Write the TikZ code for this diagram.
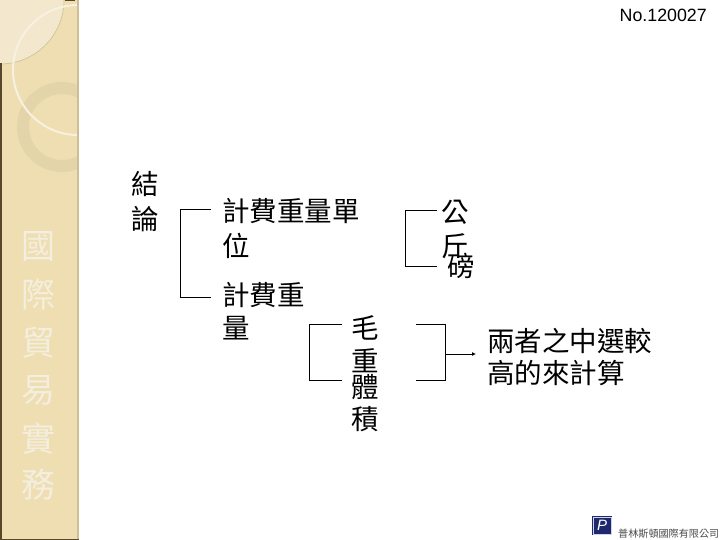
\documentclass[tikz,border=0pt]{standalone}
\usepackage{fontspec}
\usetikzlibrary{arrows.meta}
\setmainfont{Liberation Sans}
\newfontfamily\cjk{Noto Sans CJK TC}
\definecolor{sidetan}{RGB}{238,222,178}
\definecolor{sidelight}{RGB}{243,232,205}
\definecolor{sidering}{RGB}{228,212,170}
\definecolor{sideedge}{RGB}{205,190,150}
\definecolor{sidedark}{RGB}{90,70,40}
\definecolor{sidetext}{RGB}{244,238,222}
\definecolor{logoblue}{RGB}{30,40,110}
\tikzset{
  cjktext/.style={inner sep=0pt,anchor=west,font=\cjk\fontsize{27.5}{27.5}\selectfont},
  sidetext/.style={inner sep=0pt,text=sidetext,font=\cjk\fontsize{34}{34}\selectfont},
  bracket/.style={line width=0.8pt,black}
}
\begin{document}
\begin{tikzpicture}[x=1pt,y=-1pt]
  \useasboundingbox (0,0) rectangle (720,540);
  \fill[white] (0,0) rectangle (720,540);
  %side band
  \fill[sidetan] (0,0) rectangle (78,540);
  \begin{scope}
    \clip (0,0) rectangle (78,540);
    %lighter piece in the corner
    \fill[sidelight] (0,0) circle[radius=64];
    \draw[sideedge,line width=0.6pt] (0,0) circle[radius=64];
    %ring
    \draw[sidering,line width=12pt] (62,127) circle[radius=39];
    %thin light circle
    \draw[sidelight!60!white,line width=2pt] (78,70) circle[radius=65];
  \end{scope}
  \fill[sideedge] (77,0) rectangle (79,540);
  \fill[sidedark] (0,63) rectangle (1.5,540);
  \fill[sidedark] (0,539) rectangle (79,540);
  \fill[sidedark] (65,0) rectangle (75,1.5);
  \node[sidetext] (side1) at (38,246) {國};
  \node[sidetext] (side2) at (38,295) {際};
  \node[sidetext] (side3) at (38,343) {貿};
  \node[sidetext] (side4) at (38,390) {易};
  \node[sidetext] (side5) at (38,438) {實};
  \node[sidetext] (side6) at (38,485) {務};
  %page number
  \node[inner sep=0pt,anchor=east,font=\fontsize{17.8}{18}\selectfont] (pageno) at (707,15) {No.120027};
  %title, written downwards
  \node[cjktext] (title1) at (131,184) {結};
  \node[cjktext] (title2) at (131,219) {論};
  %first level
  \node[cjktext] (unit1) at (222,211) {計費重量單};
  \node[cjktext] (unit2) at (222,246) {位};
  \node[cjktext] (unit3) at (222,295) {計費重};
  \node[cjktext] (unit4) at (222,328) {量};
  %second level
  \node[cjktext] (kg1) at (441,212) {公};
  \node[cjktext] (kg2) at (441,246) {斤};
  \node[cjktext] (lb) at (447,266) {磅};
  \node[cjktext] (gross1) at (351,328) {毛};
  \node[cjktext] (gross2) at (351,361) {重};
  \node[cjktext] (vol1) at (351,387) {體};
  \node[cjktext] (vol2) at (351,419) {積};
  \node[cjktext] (result1) at (487,341) {兩者之中選較};
  \node[cjktext] (result2) at (487,373) {高的來計算};
  %brackets
  \coordinate (a1) at (211,209);
  \coordinate (a2) at (211,297.5);
  \coordinate (c1) at (437,210.5);
  \coordinate (c2) at (437,266.5);
  \coordinate (d1) at (342,324);
  \coordinate (d2) at (342,380.5);
  \coordinate (b1) at (416,324);
  \coordinate (b2) at (416,380.5);
  \coordinate (b3) at (445,354);
  \coordinate (b4) at (476,354);
  \draw[bracket] (a1) -| (180.5,297.5) -- (a2);
  \draw[bracket] (c1) -| (405.5,266.5) -- (c2);
  \draw[bracket] (d1) -| (309.5,380.5) -- (d2);
  \draw[bracket] (b1) -| (b3 |- b2) -- (b2);
  \draw[bracket,-{Latex[length=4pt,width=4pt]}] (b3) -- (b4);
  %logo
  \fill[logoblue] (592,516) rectangle (612,535);
  \draw[white!80!logoblue,line width=0.5pt] (593,517) rectangle (611,534);
  \node[inner sep=0pt,text=white,font=\itshape\fontsize{15}{15}\selectfont] (logo) at (602,525) {P};
  \node[inner sep=0pt,anchor=west,text=black!70,font=\cjk\fontsize{10.1}{10.1}\selectfont] (company) at (618,533.5) {普林斯頓國際有限公司};
\end{tikzpicture}
\end{document}
